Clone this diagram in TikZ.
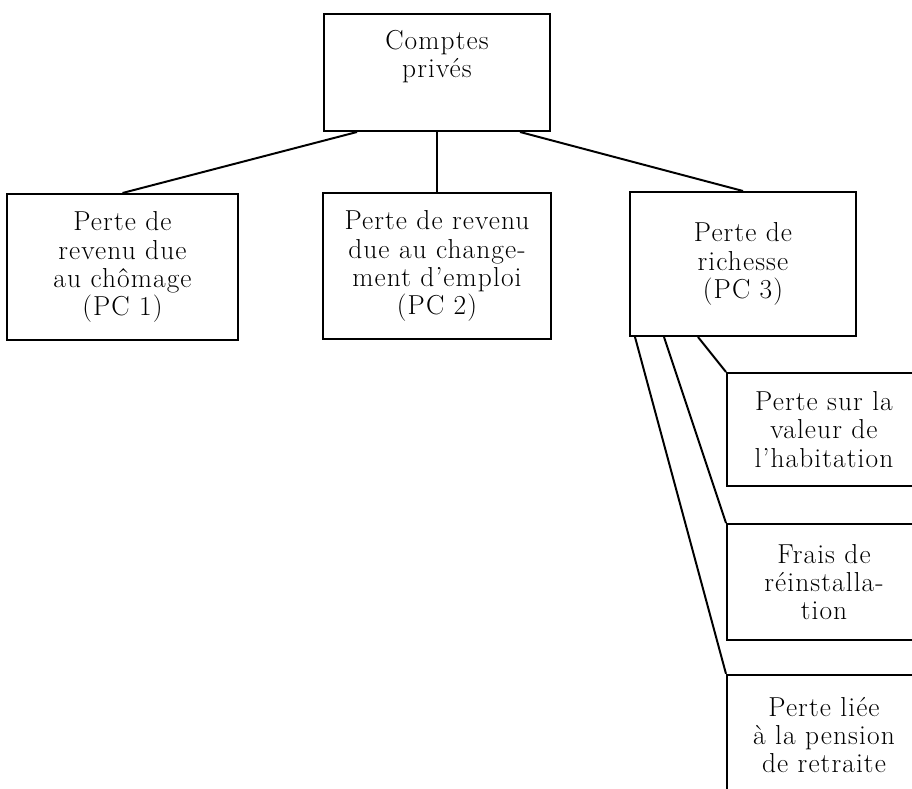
\documentclass[tikz,border=0pt]{standalone}
\usepackage{fontspec}
\setmainfont{Latin Modern Roman}[LetterSpace=4]
\usepackage{tikz}
\usetikzlibrary{positioning,calc}

\begin{document}
\begin{tikzpicture}[x=0.025cm, y=-0.025cm,
    every node/.style={font=\fontsize{19.5}{20}\selectfont, align=center},
    box/.style={draw, line width=1.4pt, inner sep=0pt},
    sub/.style={box, minimum width=4.85cm},
    link/.style={line width=1.4pt}]

    \useasboundingbox (0,0) rectangle (912,788);
    \clip (0,0) rectangle (912,788);

    % Top
    \node[box, minimum width=5.625cm, minimum height=2.925cm] (comptes) at (437,72.5) {};
    \node (comptestxt) at (437,57) {Comptes\\priv\'es};

    % Level 2
    \node[box, minimum width=5.775cm, minimum height=3.65cm] (pc1) at (122.5,267) {Perte de\\revenu due\\au ch\^omage\\(PC 1)};
    \node[box, minimum width=5.675cm, minimum height=3.65cm] (pc2) at (437,266) {Perte de revenu\\due au change-\\ment d'emploi\\(PC 2)};
    \node[box, minimum width=5.65cm, minimum height=3.6cm] (pc3) at (743,264) {Perte de\\richesse\\(PC 3)};

    % Sous-postes de PC 3
    \node[sub, minimum height=2.825cm] (habit) at (824,429.5) {Perte sur la\\valeur de\\l'habitation};
    \node[sub, minimum height=2.9cm] (frais) [below=0.9cm of habit] {Frais de\\r\'einstalla-\\tion};
    \node[sub, minimum height=3.0cm] (pension) [below=0.82cm of frais] {Perte li\'ee\\\`a la pension\\de retraite};

    % Liens
    \draw[link] ($(comptes.south)+(-80,0)$) -- (pc1.north);
    \draw[link] (comptes.south) -- (pc2.north);
    \draw[link] ($(comptes.south)+(83,0)$) -- (pc3.north);
    \draw[link] ($(pc3.south west)+(69,0)$) -- (habit.north west);
    \draw[link] ($(pc3.south west)+(35,0)$) -- (frais.north west);
    \draw[link] ($(pc3.south west)+(6,0)$) -- (pension.north west);

\end{tikzpicture}
\end{document}
